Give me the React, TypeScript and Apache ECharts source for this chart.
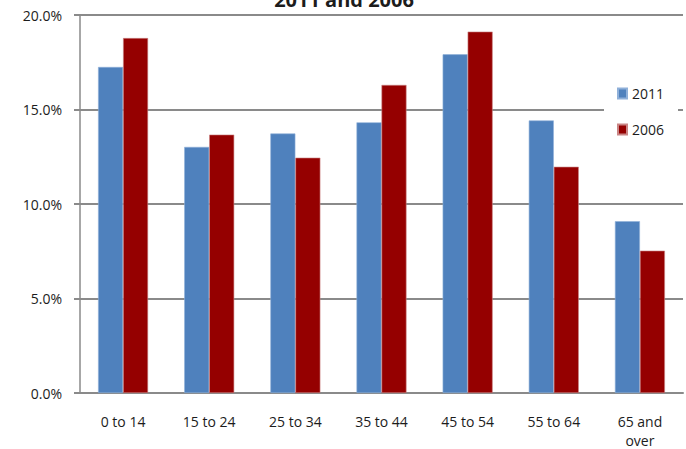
import React, { useEffect, useRef } from "react";
import * as echarts from "echarts";

// Age groups along the x axis
const categories: string[] = [
  "0 to 14",
  "15 to 24",
  "25 to 34",
  "35 to 44",
  "45 to 54",
  "55 to 64",
  "65 and\nover",
];

// Share of population per age group (%)
const values2011: number[] = [17.25, 13.02, 13.73, 14.32, 17.92, 14.42, 9.09];
const values2006: number[] = [18.78, 13.67, 12.45, 16.3, 19.12, 11.97, 7.53];

const seriesNames: string[] = ["2011", "2006"];
const titleText = "2011 and 2006";

const FONT = "'Open Sans', 'Noto Sans', sans-serif";
const TEXT = "#1c1c1c";
const GRID = "#8a8a8a";

export default function App() {
  const ref = useRef<HTMLDivElement>(null);

  useEffect(() => {
    document.body.style.margin = "0";
    if (!ref.current) return;
    const chart = echarts.init(ref.current, undefined, { renderer: "svg" });
    chart.setOption({
      animation: false,
      backgroundColor: "#ffffff",
      textStyle: { fontFamily: FONT, color: TEXT },
      graphic: [
        {
          type: "text",
          x: 344,
          y: 9,
          style: {
            text: titleText,
            fontFamily: FONT,
            fontSize: 20,
            fontWeight: "bold",
            fill: TEXT,
            align: "center",
            verticalAlign: "bottom",
          },
        },
      ],
      grid: {
        left: 80,
        right: 3,
        top: 15,
        bottom: 56,
        containLabel: false,
        outerBoundsMode: "none",
      },
      legend: {
        orient: "vertical",
        left: 604,
        top: 80,
        padding: [6, 14, 6, 13],
        backgroundColor: "#ffffff",
        itemWidth: 9,
        itemHeight: 10,
        itemGap: 21,
        icon: "rect",
        data: seriesNames,
        textStyle: { fontFamily: FONT, fontSize: 14, color: TEXT, lineHeight: 15 },
      },
      xAxis: {
        type: "category",
        data: categories,
        axisLine: { lineStyle: { color: GRID, width: 2 } },
        axisTick: { length: 6, lineStyle: { color: GRID, width: 1.5 } },
        axisLabel: {
          fontFamily: FONT,
          fontSize: 14,
          color: TEXT,
          margin: 19,
          lineHeight: 19,
          interval: 0,
        },
      },
      yAxis: {
        type: "value",
        min: 0,
        max: 20,
        interval: 5,
        axisLine: { show: true, lineStyle: { color: GRID, width: 1.5 } },
        axisTick: { show: true, length: 6, lineStyle: { color: GRID, width: 2 } },
        splitLine: { lineStyle: { color: GRID, width: 2 } },
        axisLabel: {
          fontFamily: FONT,
          fontSize: 14,
          color: TEXT,
          margin: 18,
          formatter: (v: number) => v.toFixed(1) + "%",
        },
      },
      series: [
        {
          name: seriesNames[0],
          type: "bar",
          data: values2011,
          barWidth: 25,
          barGap: "0%",
          itemStyle: { color: "#4f81bd", borderColor: "#8fb0d9", borderWidth: 0.6 },
        },
        {
          name: seriesNames[1],
          type: "bar",
          data: values2006,
          barWidth: 25,
          barGap: "0%",
          itemStyle: { color: "#950000", borderColor: "#c98585", borderWidth: 0.6 },
        },
      ],
    });
    return () => chart.dispose();
  }, []);

  return (
    <div
      ref={ref}
      style={{ position: "absolute", left: 0, top: 0, width: 686, height: 449 }}
    />
  );
}
